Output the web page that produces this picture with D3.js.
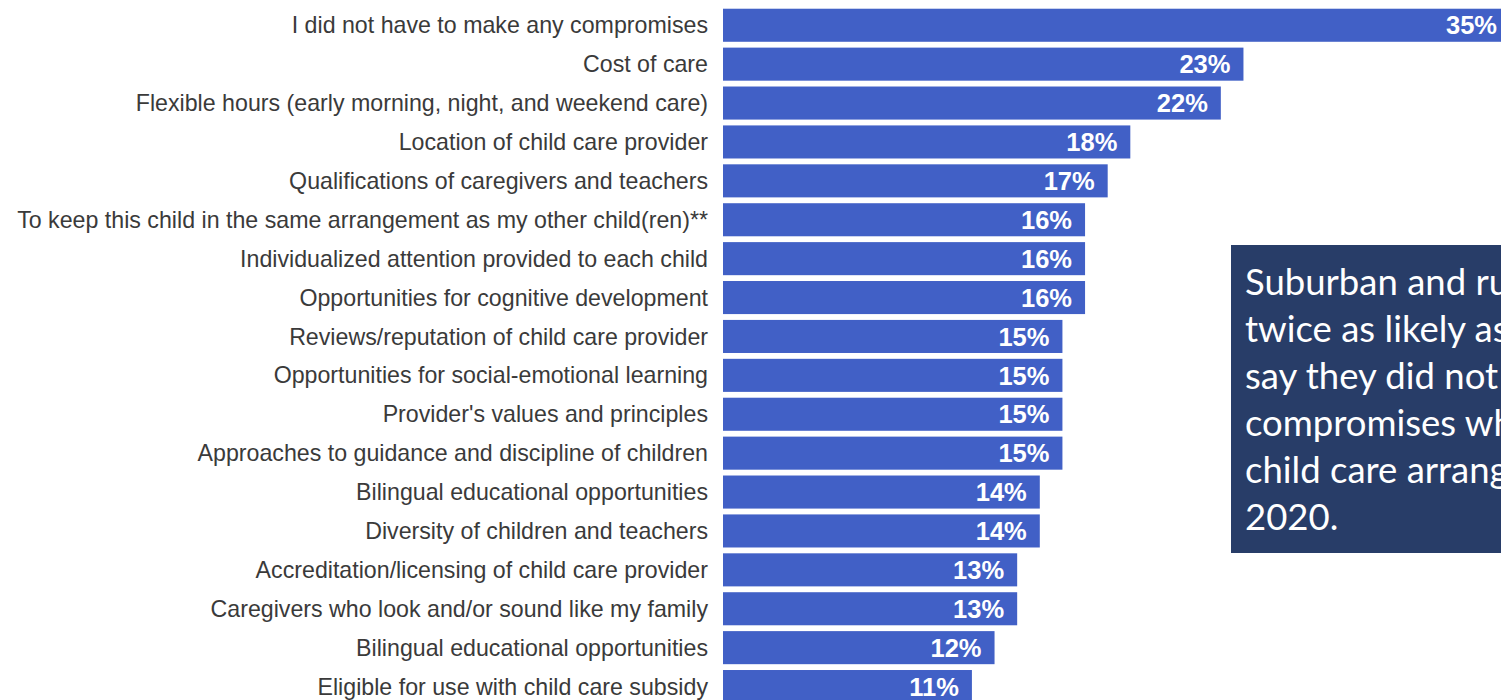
<!DOCTYPE html>
<html>
<head>
<meta charset="utf-8">
<script src="https://cdn.jsdelivr.net/npm/d3@7"></script>
<style>
  body { margin: 0; background: #fff; overflow: hidden; }
  svg { display: block; }
</style>
</head>
<body>
<svg width="1501" height="700"></svg>
<script>
// categories and values (top to bottom)
var categories = [
  "I did not have to make any compromises",
  "Cost of care",
  "Flexible hours (early morning, night, and weekend care)",
  "Location of child care provider",
  "Qualifications of caregivers and teachers",
  "To keep this child in the same arrangement as my other child(ren)**",
  "Individualized attention provided to each child",
  "Opportunities for cognitive development",
  "Reviews/reputation of child care provider",
  "Opportunities for social-emotional learning",
  "Provider's values and principles",
  "Approaches to guidance and discipline of children",
  "Bilingual educational opportunities",
  "Diversity of children and teachers",
  "Accreditation/licensing of child care provider",
  "Caregivers who look and/or sound like my family",
  "Bilingual educational opportunities ",
  "Eligible for use with child care subsidy"
];
var values = [35, 23, 22, 18, 17, 16, 16, 16, 15, 15, 15, 15, 14, 14, 13, 13, 12, 11];

var noteLines = [
  "Suburban and rural parents were",
  "twice as likely as urban parents to",
  "say they did not have to make any",
  "compromises when selecting their",
  "child care arrangement in",
  "2020."
];

var svg = d3.select("svg");

var x = d3.scaleLinear().domain([0, 35]).range([723, 1515]);
var y = d3.scaleBand().domain(categories).range([5.8, 706]).paddingInner(0.15).paddingOuter(0.075);

// bars
svg.selectAll("rect.bar").data(values).enter().append("rect")
    .attr("class", "bar")
    .attr("x", x(0))
    .attr("y", function(d, i) { return y(categories[i]); })
    .attr("width", function(d) { return x(d) - x(0); })
    .attr("height", y.bandwidth())
    .style("fill", "#4160c6");

// category labels
svg.selectAll("text.cat").data(categories).enter().append("text")
    .attr("class", "cat")
    .attr("x", 708)
    .attr("y", function(d) { return y(d) + y.bandwidth() / 2; })
    .attr("dy", "0.35em")
    .attr("text-anchor", "end")
    .style("font-family", "'Liberation Sans', Arial, sans-serif")
    .style("font-size", "23.2px")
    .style("fill", "#3a3a3a")
    .text(function(d) { return d.trim(); });

// value labels inside bars
svg.selectAll("text.val").data(values).enter().append("text")
    .attr("class", "val")
    .attr("x", function(d) { return Math.min(x(d), 1510) - 13; })
    .attr("y", function(d, i) { return y(categories[i]) + y.bandwidth() / 2; })
    .attr("dy", "0.36em")
    .attr("text-anchor", "end")
    .style("font-family", "'Liberation Sans', Arial, sans-serif")
    .style("font-weight", "bold")
    .style("font-size", "25.5px")
    .style("fill", "#fff")
    .text(function(d) { return d + "%"; });

// note box
svg.append("rect")
    .attr("x", 1231).attr("y", 245)
    .attr("width", 300).attr("height", 308)
    .style("fill", "#283d68");

svg.append("text")
    .style("font-family", "Lato, 'Open Sans', sans-serif")
    .style("font-size", "36.5px")
    .style("fill", "#fff")
    .selectAll("tspan").data(noteLines).enter().append("tspan")
    .attr("x", 1245)
    .attr("y", function(d, i) { return 295 + i * 47; })
    .text(function(d) { return d; });
</script>
</body>
</html>
